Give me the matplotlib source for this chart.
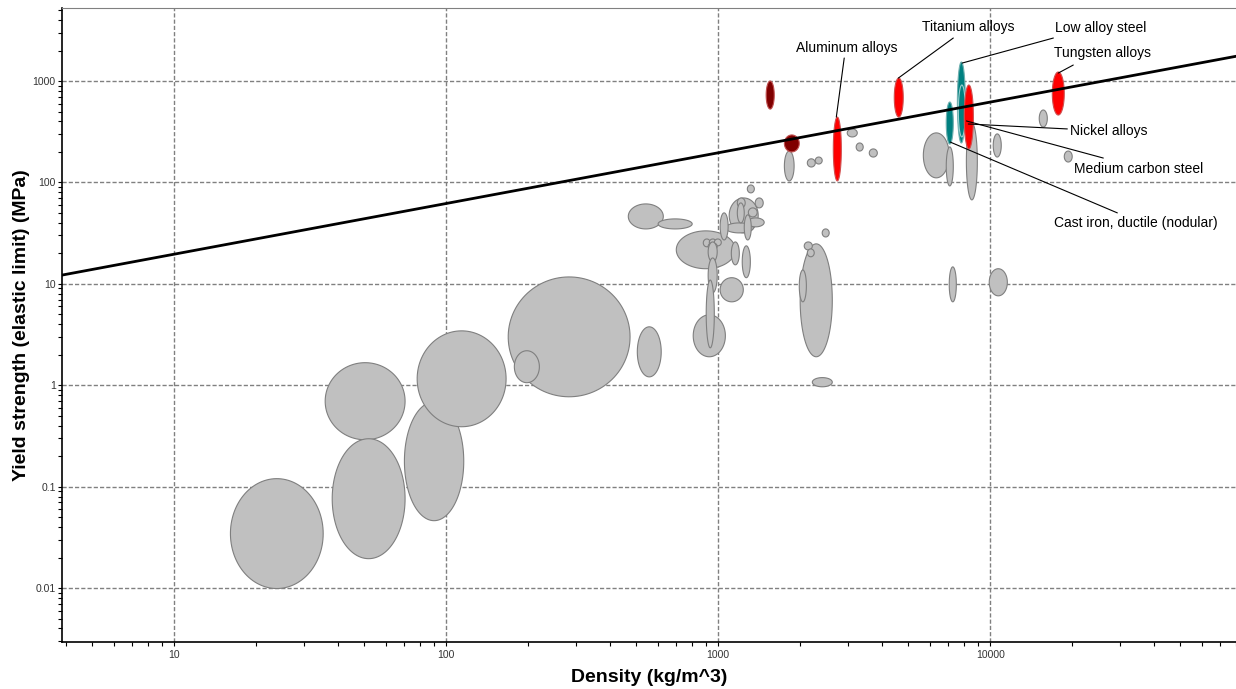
import matplotlib
matplotlib.use("Agg")
import matplotlib.pyplot as plt
import numpy as np
from matplotlib.ticker import FuncFormatter, LogLocator, NullFormatter

plt.rcParams["font.family"] = ["Liberation Sans", "DejaVu Sans"]

# material bubbles: density range (kg/m^3) and yield strength range (MPa)
gray_rho_lo = [16.1, 35.9, 38.1, 70.2, 78.2, 169, 178, 504, 467, 601, 701,
               881, 927, 967, 918, 918, 918, 1016, 809, 903, 1117, 1225,
               1097, 1062, 1016, 1175, 1367, 1279, 1175, 1290, 1279, 1246,
               2410, 2000, 2070, 2125, 1985, 2217, 7063, 9910, 1750, 2125,
               2273, 2979, 3213, 3590, 5673, 6887, 8166, 10250, 15130, 18700]
gray_rho_hi = [35.3, 70.6, 70.6, 116, 166, 474, 220, 617, 628, 802, 1155,
               935, 984, 1026, 991, 991, 991, 1236, 1062, 967, 1195, 1312,
               1402, 1345, 1087, 1256, 1463, 1357, 1246, 1390, 1475, 1322,
               2557, 2625, 2217, 2253, 2108, 2625, 7500, 11550, 1900, 2273,
               2410, 3243, 3410, 3843, 7063, 7310, 8960, 10970, 16200, 20000]
gray_sy_lo = [0.0099, 0.29, 0.0195, 0.0462, 0.39, 0.77, 1.06, 1.21, 34.8, 34.8, 14.1,
              23.2, 23.7, 23.7, 21.6, 16.5, 8.15, 6.65, 1.91, 2.34, 15.4, 11.5,
              31.8, 31.8, 27.1, 56.1, 56.1, 78.9, 39.9, 45.7, 36.5, 27.1,
              29.0, 1.91, 21.6, 18.5, 6.65, 0.966, 6.65, 7.62, 103.5, 142,
              152, 281, 204, 178, 111, 92.4, 67.3, 178, 352, 159]
gray_sy_hi = [0.12, 1.67, 0.297, 0.687, 3.44, 11.7, 2.19, 3.77, 61.4, 43.7, 33.3,
              27.7, 27.7, 27.7, 25.4, 25.9, 18.0, 11.5, 4.95, 10.9, 25.9, 23.7,
              70.3, 39.9, 50.1, 70.3, 70.3, 94.4, 62.8, 56.1, 44.7, 47.9,
              34.8, 24.8, 25.9, 22.1, 13.7, 1.19, 14.7, 14.1, 204, 171,
              178, 337, 245, 214, 308, 224, 386, 301, 518, 204]

hl_rho_lo = [1500, 1750, 2648, 4436, 7568, 7630, 8020, 6887, 16900]
hl_rho_hi = [1606, 1985, 2834, 4786, 8096, 8096, 8665, 7310, 18700]
hl_sy_lo = [529, 200, 103.5, 441, 245, 281, 214, 239, 462]
hl_sy_hi = [1000, 294, 441, 1070, 1539, 914, 914, 621, 1227]
hl_face = ["#800000", "#800000", "#ff0000", "#ff0000", "#008080", "#008080",
           "#ff0000", "#008080", "#ff0000"]
hl_edge = ["#c05050", "#c05050", "#d05050", "#d05050", "#70b0b0", "#a0d0d0",
           "#d05050", "#70b0b0", "#d05050"]

# performance index guideline
line_rho = [3.87, 80000]
line_sy = [12.2, 1754]

x_ticks = [10, 100, 1000, 10000]
y_ticks = [0.01, 0.1, 1, 10, 100, 1000]

# labels: text, point on bubble, start of leader line, text anchor, alignment
ann_text = ["Aluminum alloys", "Titanium alloys", "Low alloy steel", "Tungsten alloys",
            "Nickel alloys", "Medium carbon steel", "Cast iron, ductile (nodular)"]
ann_xy = [(2716, 441), (4592, 1070), (7880, 1504), (17780, 1199),
          (8300, 377), (8166, 404), (7125, 250)]
ann_start = [(2904, 1686), (7310, 2655), (17050, 2655), (20180, 1438),
             (19190, 337), (26020, 174), (29300, 50.1)]
ann_pos = [(2979, 2113), (8300, 3403), (25350, 3327), (25800, 1888),
           (19690, 321), (20370, 136), (17190, 39.9)]
ann_ha = ["center", "center", "center", "center", "left", "left", "left"]


def bubble(ax, x0, x1, y0, y1, face, edge):
    t = np.linspace(0, 2 * np.pi, 120)
    cx, rx = (np.log10(x0) + np.log10(x1)) / 2, (np.log10(x1) - np.log10(x0)) / 2
    cy, ry = (np.log10(y0) + np.log10(y1)) / 2, (np.log10(y1) - np.log10(y0)) / 2
    ax.fill(10 ** (cx + rx * np.cos(t)), 10 ** (cy + ry * np.sin(t)),
            facecolor=face, edgecolor=edge, linewidth=0.8, zorder=2)


fig = plt.figure(figsize=(12.36, 6.89), dpi=100)
ax = fig.add_axes([62 / 1236, 47 / 689, 1174 / 1236, 634 / 689])
ax.set_xscale("log")
ax.set_yscale("log")

for x0, x1, y0, y1 in zip(gray_rho_lo, gray_rho_hi, gray_sy_lo, gray_sy_hi):
    bubble(ax, x0, x1, y0, y1, "#c0c0c0", "#7f7f7f")
for x0, x1, y0, y1, fc, ec in zip(hl_rho_lo, hl_rho_hi, hl_sy_lo, hl_sy_hi, hl_face, hl_edge):
    bubble(ax, x0, x1, y0, y1, fc, ec)

ax.plot(line_rho, line_sy, color="black", linewidth=2, zorder=4)

for txt, xy, st, pos, ha in zip(ann_text, ann_xy, ann_start, ann_pos, ann_ha):
    ax.annotate("", xy=xy, xytext=st,
                arrowprops=dict(arrowstyle="-", color="black", lw=0.8,
                                shrinkA=0, shrinkB=0), zorder=5)
    ax.text(pos[0], pos[1], txt, ha=ha, va="center", fontsize=10, zorder=5)

ax.set_xticks(x_ticks)
ax.set_yticks(y_ticks)
ax.xaxis.set_minor_locator(LogLocator(base=10, subs=np.arange(2, 10), numticks=20))
ax.yaxis.set_minor_locator(LogLocator(base=10, subs=np.arange(2, 10), numticks=20))
fmt = FuncFormatter(lambda v, p: "%g" % v)
ax.xaxis.set_major_formatter(fmt)
ax.yaxis.set_major_formatter(fmt)
ax.xaxis.set_minor_formatter(NullFormatter())
ax.yaxis.set_minor_formatter(NullFormatter())
ax.set_xlim(3.87, 80000)
ax.set_ylim(0.00294, 5250)
ax.tick_params(which="both", direction="out", length=3, width=0.8, labelsize=7.5,
               colors="black", labelcolor="#333333")
ax.tick_params(axis="x", pad=3)
ax.tick_params(axis="y", pad=1.5)

ax.set_axisbelow(True)
ax.grid(True, which="major", color="#808080", linestyle=(0, (3, 1.5)), linewidth=1)

ax.spines["right"].set_visible(False)
ax.spines["top"].set_color("#808080")
ax.spines["left"].set_linewidth(1.2)
ax.spines["bottom"].set_linewidth(1.2)

ax.set_xlabel("Density (kg/m^3)", fontsize=14, fontweight="bold", labelpad=6)
ax.set_ylabel("Yield strength (elastic limit) (MPa)", fontsize=14, fontweight="bold",
              labelpad=2)

fig.savefig("out.png", dpi=100)
